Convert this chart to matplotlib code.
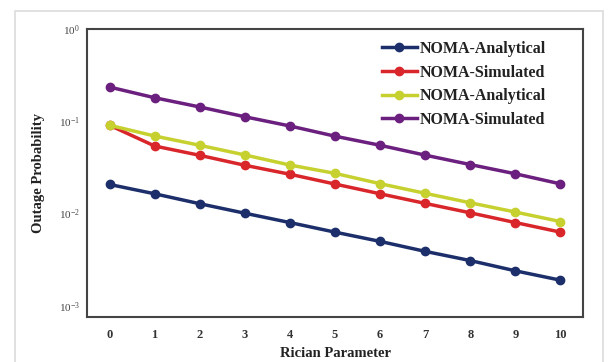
import numpy as np
import matplotlib
matplotlib.use('Agg')
import matplotlib.pyplot as plt
from matplotlib.patches import Rectangle

plt.rcParams['font.family'] = 'serif'
plt.rcParams['font.serif'] = ['Liberation Serif', 'DejaVu Serif']
plt.rcParams['mathtext.fontset'] = 'stix'

# Rician parameter (x axis)
rician = np.arange(0, 11)

# outage probability
blue_analytical = [0.0207, 0.0164, 0.0128, 0.0101, 0.0080, 0.0063, 0.0050, 0.0039, 0.0031, 0.0024, 0.0019]
red_simulated = [0.0906, 0.0540, 0.0428, 0.0334, 0.0267, 0.0209, 0.0164, 0.0129, 0.0102, 0.0080, 0.0063]
yellow_analytical = [0.0906, 0.0693, 0.0550, 0.0432, 0.0336, 0.0273, 0.0211, 0.0166, 0.0131, 0.0104, 0.0082]
purple_simulated = [0.235, 0.180, 0.143, 0.112, 0.089, 0.069, 0.055, 0.043, 0.034, 0.027, 0.021]

labels = ['NOMA-Analytical', 'NOMA-Simulated', 'NOMA-Analytical', 'NOMA-Simulated']
colors = ['#1c2f6b', '#d9262b', '#c6d12f', '#6b1f7e']
series = [blue_analytical, red_simulated, yellow_analytical, purple_simulated]

fig = plt.figure(figsize=(6.08, 3.62), dpi=100)

# light grey frame around the whole picture
fig.patches.append(Rectangle((15 / 608, -0.05), 588 / 608, 1.05 - 11 / 362,
                             transform=fig.transFigure, fill=False,
                             edgecolor='#dcdcdc', linewidth=1.2))

ax = fig.add_axes([87 / 608, 45 / 362, 496 / 608, 288 / 362])

for ys, c, lab in zip(series, colors, labels):
    ax.plot(rician, ys, color=c, linewidth=2.5, marker='o', markersize=6, label=lab)

ax.set_yscale('log')
ax.set_ylim(10 ** -3.12, 1)
ax.set_xlim(-0.5, 10.5)
ax.set_xticks(rician)
ax.set_yticks([1e-3, 1e-2, 1e-1, 1e0])
ax.minorticks_off()
ax.tick_params(axis='both', length=0)
ax.tick_params(axis='x', pad=9, labelsize=9, labelcolor='#333333')
ax.tick_params(axis='y', pad=5, labelsize=8, labelcolor='#444444')
for t in ax.get_xticklabels():
    t.set_fontweight('bold')

for s in ax.spines.values():
    s.set_color('#444444')
    s.set_linewidth(1.5)

ax.set_xlabel('Rician Parameter', fontsize=10.5, fontweight='bold', color='#222222', labelpad=4)
ax.set_ylabel('Outage Probability', fontsize=10.5, fontweight='bold', color='#222222', labelpad=10)

leg = ax.legend(loc='upper right', frameon=False, fontsize=11.5, handlelength=2.2,
                handletextpad=0.2, labelspacing=0.48, borderaxespad=0.35,
                bbox_to_anchor=(0.95, 1.0))
for t in leg.get_texts():
    t.set_fontweight('bold')
    t.set_color('#222222')

fig.savefig('out.png', dpi=100)
